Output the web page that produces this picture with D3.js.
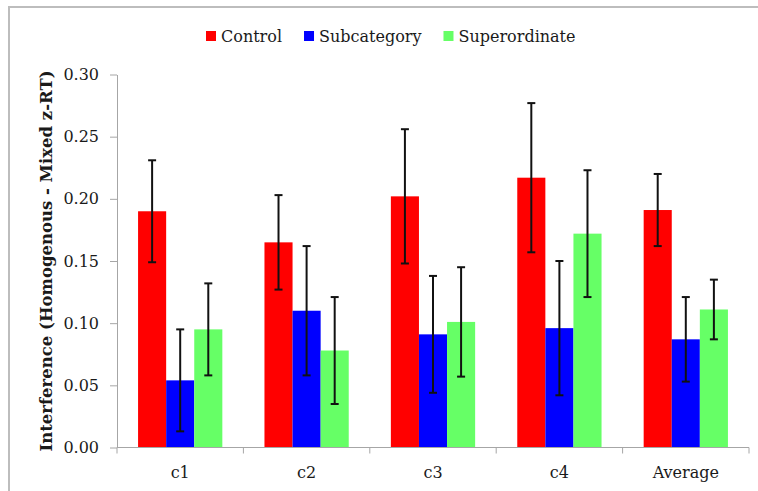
<!DOCTYPE html>
<html>
<head>
<meta charset="utf-8">
<script src="https://cdn.jsdelivr.net/npm/d3@7"></script>
<style>
  body { margin: 0; background: #fff; }
  svg { display: block; font-family: "DejaVu Serif", serif; }
</style>
</head>
<body>
<svg id="chart" width="758" height="491"></svg>
<script>
  // values
  var categories = ["c1", "c2", "c3", "c4", "Average"];
  var seriesNames = ["Control", "Subcategory", "Superordinate"];
  var seriesColors = ["#ff0000", "#0000ff", "#66ff66"];

  var control = [0.190, 0.165, 0.202, 0.217, 0.191];
  var controlErr = [0.041, 0.038, 0.054, 0.060, 0.029];
  var subcategory = [0.054, 0.110, 0.091, 0.096, 0.087];
  var subcategoryErr = [0.041, 0.052, 0.047, 0.054, 0.034];
  var superordinate = [0.095, 0.078, 0.101, 0.172, 0.111];
  var superordinateErr = [0.037, 0.043, 0.044, 0.051, 0.024];

  var yTicks = [0, 0.05, 0.10, 0.15, 0.20, 0.25, 0.30];

  var values = [control, subcategory, superordinate];
  var errors = [controlErr, subcategoryErr, superordinateErr];

  var svg = d3.select("#chart");

  // outer frame
  svg.append("rect")
    .attr("x", 9).attr("y", 7)
    .attr("width", 770).attr("height", 500)
    .attr("fill", "#fff")
    .attr("stroke", "#bdbdbd")
    .attr("stroke-width", 2);

  var plotLeft = 117, plotRight = 749, plotTop = 74.5, plotBottom = 447.5;

  var x = d3.scaleBand().domain(categories).range([plotLeft, plotRight]);
  var bw = x.bandwidth();
  var groupW = bw * 3 / 4.5;
  var x1 = d3.scaleBand().domain(seriesNames)
    .range([(bw - groupW) / 2, (bw + groupW) / 2]);

  var y = d3.scaleLinear().domain([0, 0.30]).range([plotBottom, plotTop]);

  // y axis
  var yAxis = svg.append("g")
    .attr("transform", "translate(" + plotLeft + ",0)")
    .call(d3.axisLeft(y).tickValues(yTicks).tickFormat(d3.format(".2f"))
      .tickSize(7).tickPadding(11).tickSizeOuter(0));
  yAxis.select(".domain").attr("stroke", "#a6a6a6");
  yAxis.selectAll(".tick line").attr("stroke", "#a6a6a6");
  yAxis.selectAll("text")
    .attr("font-family", "DejaVu Serif")
    .attr("font-size", 16)
    .attr("fill", "#1a1a1a");

  // bars
  seriesNames.forEach(function(name, si) {
    svg.append("g")
      .selectAll("rect")
      .data(categories)
      .enter().append("rect")
      .attr("x", function(d) { return x(d) + x1(name); })
      .attr("y", function(d, i) { return y(values[si][i]); })
      .attr("width", x1.bandwidth())
      .attr("height", function(d, i) { return plotBottom - y(values[si][i]); })
      .attr("fill", seriesColors[si]);
  });

  // error bars
  seriesNames.forEach(function(name, si) {
    var g = svg.append("g").attr("stroke", "#111").attr("stroke-width", 2);
    categories.forEach(function(c, i) {
      var cx = x(c) + x1(name) + x1.bandwidth() / 2;
      var hi = y(values[si][i] + errors[si][i]);
      var lo = y(values[si][i] - errors[si][i]);
      g.append("line").attr("x1", cx).attr("x2", cx).attr("y1", hi).attr("y2", lo);
      g.append("line").attr("x1", cx - 4).attr("x2", cx + 4).attr("y1", hi).attr("y2", hi);
      g.append("line").attr("x1", cx - 4).attr("x2", cx + 4).attr("y1", lo).attr("y2", lo);
    });
  });

  // x axis: line, boundary ticks and centred labels
  var xg = svg.append("g");
  xg.append("line")
    .attr("x1", plotLeft).attr("x2", plotRight)
    .attr("y1", plotBottom).attr("y2", plotBottom)
    .attr("stroke", "#a6a6a6");
  var bounds = categories.map(function(c) { return x(c); }).concat([plotRight]);
  xg.selectAll(".bt")
    .data(bounds)
    .enter().append("line")
    .attr("x1", function(d) { return d; }).attr("x2", function(d) { return d; })
    .attr("y1", plotBottom).attr("y2", plotBottom + 6)
    .attr("stroke", "#a6a6a6");
  xg.selectAll("text")
    .data(categories)
    .enter().append("text")
    .attr("x", function(d) { return x(d) + bw / 2; })
    .attr("y", 478)
    .attr("text-anchor", "middle")
    .attr("font-size", 16)
    .attr("fill", "#1a1a1a")
    .text(function(d) { return d; });

  // y axis title
  svg.append("text")
    .attr("transform", "translate(52," + ((plotTop + plotBottom) / 2) + ") rotate(-90)")
    .attr("text-anchor", "middle")
    .attr("font-size", 16.5)
    .attr("font-weight", "bold")
    .attr("fill", "#1a1a1a")
    .text("Interference (Homogenous - Mixed z-RT)");

  // legend
  var lx = 206;
  seriesNames.forEach(function(name, si) {
    svg.append("rect")
      .attr("x", lx).attr("y", 31)
      .attr("width", 10).attr("height", 10)
      .attr("fill", seriesColors[si]);
    var t = svg.append("text")
      .attr("x", lx + 15).attr("y", 42)
      .attr("font-size", 16)
      .attr("fill", "#1a1a1a")
      .text(name);
    lx += 15 + t.node().getComputedTextLength() + 22;
  });
</script>
</body>
</html>
